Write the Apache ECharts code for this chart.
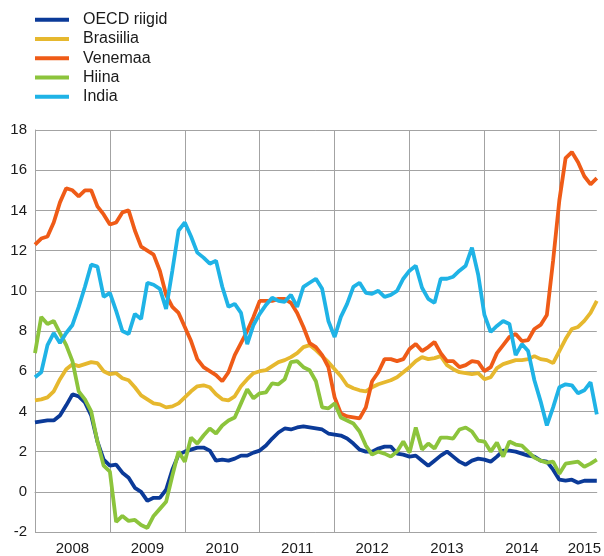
<!DOCTYPE html>
<html>
<head>
<meta charset="utf-8">
<script src="https://cdn.jsdelivr.net/npm/echarts@6/dist/echarts.min.js"></script>
<style>
  html, body { margin: 0; padding: 0; background: #fff; }
  #chart { width: 604px; height: 556px; }
</style>
</head>
<body>
<div id="chart"></div>
<script>
// months Jan 2008 .. Jul 2015
const months = [];
for (let y = 2008; y <= 2015; y++) {
  for (let m = 1; m <= 12; m++) {
    if (y === 2015 && m > 7) break;
    months.push(y + "-" + String(m).padStart(2, "0"));
  }
}

const seriesNames = ["OECD riigid", "Brasiilia", "Venemaa", "Hiina", "India"];
const colors = ["#0b3a98", "#e6b82e", "#ef5b17", "#8cc43c", "#1fb3e6"];

const oecd = [3.45, 3.5, 3.55, 3.55, 3.8, 4.3, 4.85, 4.75, 4.45, 3.8, 2.5, 1.6,
  1.3, 1.35, 0.95, 0.7, 0.2, 0.0, -0.45, -0.3, -0.3, 0.1, 1.1, 1.85,
  2.0, 2.1, 2.2, 2.2, 2.05, 1.55, 1.6, 1.55, 1.65, 1.8, 1.8, 1.95,
  2.05, 2.3, 2.65, 2.95, 3.15, 3.1, 3.2, 3.25, 3.2, 3.15, 3.1, 2.9,
  2.85, 2.8, 2.65, 2.4, 2.1, 2.0, 2.0, 2.15, 2.25, 2.25, 1.9, 1.85,
  1.75, 1.8, 1.55, 1.3, 1.55, 1.8, 2.0, 1.75, 1.5, 1.35, 1.55, 1.65,
  1.6, 1.5, 1.75, 2.05, 2.05, 2.0, 1.9, 1.8, 1.75, 1.55, 1.5, 1.1,
  0.6, 0.55, 0.6, 0.45, 0.55, 0.55, 0.55];

const brasiilia = [4.55, 4.6, 4.7, 5.0, 5.6, 6.1, 6.35, 6.25, 6.35, 6.45, 6.4, 6.0,
  5.85, 5.9, 5.65, 5.55, 5.2, 4.8, 4.6, 4.4, 4.35, 4.2, 4.25, 4.4,
  4.7, 5.0, 5.25, 5.3, 5.2, 4.85, 4.6, 4.55, 4.75, 5.25, 5.6, 5.9,
  6.0, 6.05, 6.25, 6.45, 6.55, 6.7, 6.9, 7.2, 7.3, 7.05, 6.75, 6.45,
  6.1, 5.75, 5.3, 5.15, 5.05, 5.0, 5.2, 5.35, 5.45, 5.55, 5.7, 5.95,
  6.2, 6.5, 6.7, 6.6, 6.65, 6.75, 6.3, 6.1, 5.95, 5.9, 5.85, 5.9,
  5.6, 5.7, 6.15, 6.35, 6.45, 6.55, 6.55, 6.6, 6.75, 6.6, 6.55, 6.4,
  7.0, 7.6, 8.1, 8.2, 8.5, 8.9, 9.5];

const venemaa = [12.3, 12.6, 12.7, 13.4, 14.4, 15.1, 15.0, 14.7, 15.0, 15.0, 14.2, 13.8,
  13.3, 13.4, 13.9, 14.0, 13.0, 12.2, 12.0, 11.8, 11.0, 9.8, 9.2, 8.9,
  8.2, 7.5, 6.6, 6.2, 6.0, 5.8, 5.5, 5.95, 6.8, 7.4, 8.0, 8.7,
  9.5, 9.5, 9.5, 9.6, 9.6, 9.4, 8.9, 8.2, 7.4, 7.2, 6.8, 6.2,
  4.7, 3.9, 3.75, 3.7, 3.65, 4.2, 5.5, 5.95, 6.6, 6.6, 6.5, 6.6,
  7.1, 7.35, 7.0, 7.2, 7.45, 6.9, 6.5, 6.5, 6.2, 6.3, 6.5, 6.45,
  6.0, 6.2, 6.9, 7.3, 7.7, 7.85, 7.5, 7.55, 8.1, 8.3, 8.8, 11.5,
  14.5, 16.6, 16.9, 16.4, 15.7, 15.3, 15.6];

const hiina = [6.9, 8.7, 8.35, 8.5, 7.9, 7.3, 6.5, 5.0, 4.6, 4.0, 2.5, 1.3,
  1.0, -1.5, -1.2, -1.45, -1.4, -1.65, -1.8, -1.2, -0.85, -0.5, 0.8, 2.0,
  1.5, 2.7, 2.4, 2.8, 3.15, 2.9, 3.3, 3.55, 3.7, 4.4, 5.1, 4.65,
  4.9, 4.95, 5.4, 5.35, 5.6, 6.45, 6.5, 6.2, 6.05, 5.5, 4.2, 4.15,
  4.4, 3.7, 3.55, 3.4, 3.0, 2.3, 1.85, 2.0, 1.9, 1.75, 2.0, 2.5,
  1.95, 3.2, 2.1, 2.4, 2.15, 2.7, 2.7, 2.65, 3.1, 3.2, 3.0, 2.55,
  2.5, 2.0, 2.45, 1.75, 2.5, 2.35, 2.3, 2.0, 1.7, 1.55, 1.45, 1.5,
  0.9, 1.4, 1.45, 1.5, 1.25, 1.4, 1.6];

const india = [5.7, 5.95, 7.3, 7.9, 7.4, 7.9, 8.3, 9.2, 10.2, 11.3, 11.2, 9.7,
  9.9, 9.0, 8.0, 7.85, 8.85, 8.6, 10.4, 10.3, 10.1, 9.1, 11.0, 13.0,
  13.4, 12.7, 11.9, 11.65, 11.35, 11.5, 10.2, 9.2, 9.35, 8.9, 7.35, 8.3,
  8.85, 9.3, 9.65, 9.5, 9.45, 9.8, 9.2, 10.2, 10.4, 10.6, 10.1, 8.5,
  7.7, 8.7, 9.35, 10.2, 10.4, 9.9, 9.85, 10.0, 9.7, 9.8, 10.0, 10.6,
  11.0, 11.25, 10.15, 9.6, 9.4, 10.6, 10.6, 10.7, 11.0, 11.25, 12.15, 10.8,
  8.8, 7.95, 8.25, 8.5, 8.35, 6.8, 7.35, 7.0, 5.55, 4.5, 3.3, 4.2,
  5.2, 5.35, 5.3, 4.9, 5.05, 5.45, 3.85];

const seriesData = [oecd, brasiilia, venemaa, hiina, india];

const gridColor = "#a3a3a3";
const font = "'Liberation Sans', Arial, sans-serif";

const chart = echarts.init(document.getElementById("chart"));

const option = {
  animation: false,
  color: colors,
  textStyle: { fontFamily: font },
  legend: {
    orient: "vertical",
    left: 35,
    top: 10,
    padding: 0,
    icon: "rect",
    itemWidth: 34,
    itemHeight: 4,
    itemGap: 0,
    textStyle: {
      fontFamily: font,
      fontSize: 16,
      color: "#1a1a1a",
      lineHeight: 19.3,
      padding: [0, 0, 0, 9],
    },
    data: seriesNames,
  },
  grid: {
    left: 35,
    right: 3,
    top: 130,
    bottom: 23,
  },
  xAxis: {
    type: "category",
    data: months,
    boundaryGap: false,
    axisLine: { show: true, lineStyle: { color: gridColor, width: 1 } },
    axisTick: {
      show: true,
      length: 7,
      interval: (idx) => idx % 12 === 0,
      lineStyle: { color: gridColor },
    },
    splitLine: {
      show: true,
      interval: (idx) => idx % 12 === 0,
      lineStyle: { color: gridColor, width: 1 },
    },
    axisLabel: {
      interval: (idx) => idx % 12 === 6 || idx === 88,
      formatter: (v) => v.slice(0, 4),
      fontFamily: font,
      fontSize: 15,
      color: "#1a1a1a",
      margin: 9,
    },
  },
  yAxis: {
    type: "value",
    min: -2,
    max: 18,
    interval: 2,
    axisLine: { show: true, lineStyle: { color: gridColor, width: 1 } },
    axisTick: { show: false },
    splitLine: { show: true, lineStyle: { color: gridColor, width: 1 } },
    axisLabel: {
      fontFamily: font,
      fontSize: 15,
      color: "#1a1a1a",
      margin: 8,
    },
  },
  series: seriesNames.map((name, i) => ({
    name: name,
    type: "line",
    data: seriesData[i],
    symbol: "none",
    lineStyle: { width: 3.8, color: colors[i] },
  })),
};

chart.setOption(option);
</script>
</body>
</html>
